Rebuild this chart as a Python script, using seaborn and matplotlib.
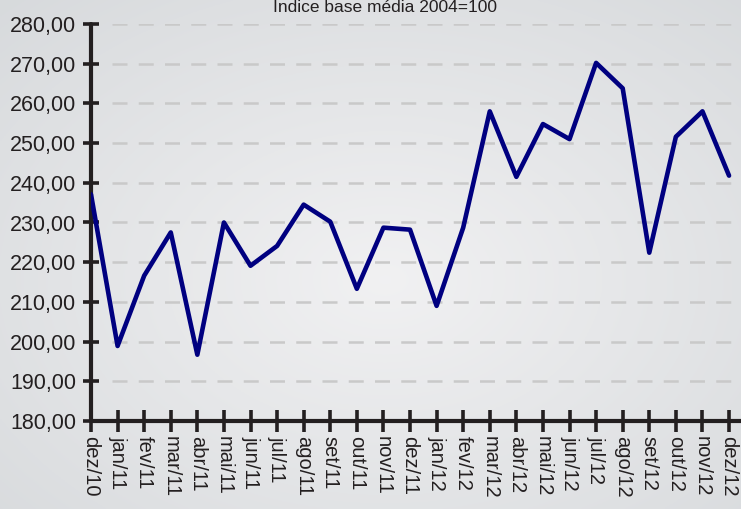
import numpy as np
import pandas as pd
import seaborn as sns
import matplotlib.pyplot as plt

# dados
meses = ['dez/10', 'jan/11', 'fev/11', 'mar/11', 'abr/11', 'mai/11', 'jun/11',
         'jul/11', 'ago/11', 'set/11', 'out/11', 'nov/11', 'dez/11', 'jan/12',
         'fev/12', 'mar/12', 'abr/12', 'mai/12', 'jun/12', 'jul/12', 'ago/12',
         'set/12', 'out/12', 'nov/12', 'dez/12']
indice = [237.1, 198.9, 216.6, 227.5, 196.7, 230.0, 219.1, 224.1, 234.5, 230.2,
          213.3, 228.7, 228.2, 209.0, 228.7, 258.0, 241.5, 254.8, 251.0, 270.2,
          263.8, 222.4, 251.6, 258.0, 241.8]
y_ticks = [180, 190, 200, 210, 220, 230, 240, 250, 260, 270, 280]
titulo = 'Índice base média 2004=100'

df = pd.DataFrame({'mes': meses, 'indice': indice})

sns.set_style('white')
plt.rcParams['font.family'] = ['Liberation Sans', 'DejaVu Sans']

W, H = 741, 509
fig = plt.figure(figsize=(W / 100, H / 100), dpi=100)

# fundo com gradiente radial
bg = fig.add_axes([0, 0, 1, 1], zorder=-10)
yy, xx = np.mgrid[0:1:300j, 0:1:400j]
r = np.sqrt(((xx - 0.52) / 0.75) ** 2 + ((yy - 0.45) / 0.75) ** 2)
light = np.array([0.945, 0.945, 0.95])
dark = np.array([0.845, 0.855, 0.865])
t = np.clip(r, 0, 1)[..., None]
img = light * (1 - t) + dark * t
bg.imshow(img, aspect='auto', extent=[0, 1, 0, 1], origin='lower')
bg.axis('off')

ax = fig.add_axes([91 / W, 88 / H, 650 / W, 397 / H])
ax.set_facecolor('none')

ax.hlines(y_ticks[1:], 0.8, 24.6, colors='#c9c9c9', linestyles=(0, (6, 4.5)),
          linewidth=1.8, zorder=0)

sns.lineplot(data=df, x='mes', y='indice', sort=False, color='#000080',
             linewidth=3.3, ax=ax, zorder=3)

ax.set_xlim(0, 24.45)
ax.set_ylim(180, 280)
ax.set_yticks(y_ticks)
ax.set_yticklabels([f'{v:.2f}'.replace('.', ',') for v in y_ticks],
                   fontsize=15.5, color='#231f20')
ax.set_xticks(range(len(meses)))
ax.set_xticklabels(meses, rotation=270, fontsize=14.5, color='#231f20')

for s in ['top', 'right']:
    ax.spines[s].set_visible(False)
for s in ['left', 'bottom']:
    ax.spines[s].set_linewidth(3)
    ax.spines[s].set_color('#231f20')
    ax.spines[s].set_capstyle('round')
ax.tick_params(axis='y', left=True, direction='inout', length=11, width=2.6,
               color='#231f20', pad=5)
ax.tick_params(axis='x', bottom=True, direction='inout', length=16, width=2.6,
               color='#231f20', pad=3)
for tl in ax.yaxis.get_ticklines() + ax.xaxis.get_ticklines():
    tl.set_solid_capstyle('round')
ax.set_xlabel('')
ax.set_ylabel('')

fig.text(0.52, 1.0, titulo, ha='center', va='top', fontsize=12.5,
         color='#231f20')

plt.savefig('out.png', dpi=100)
